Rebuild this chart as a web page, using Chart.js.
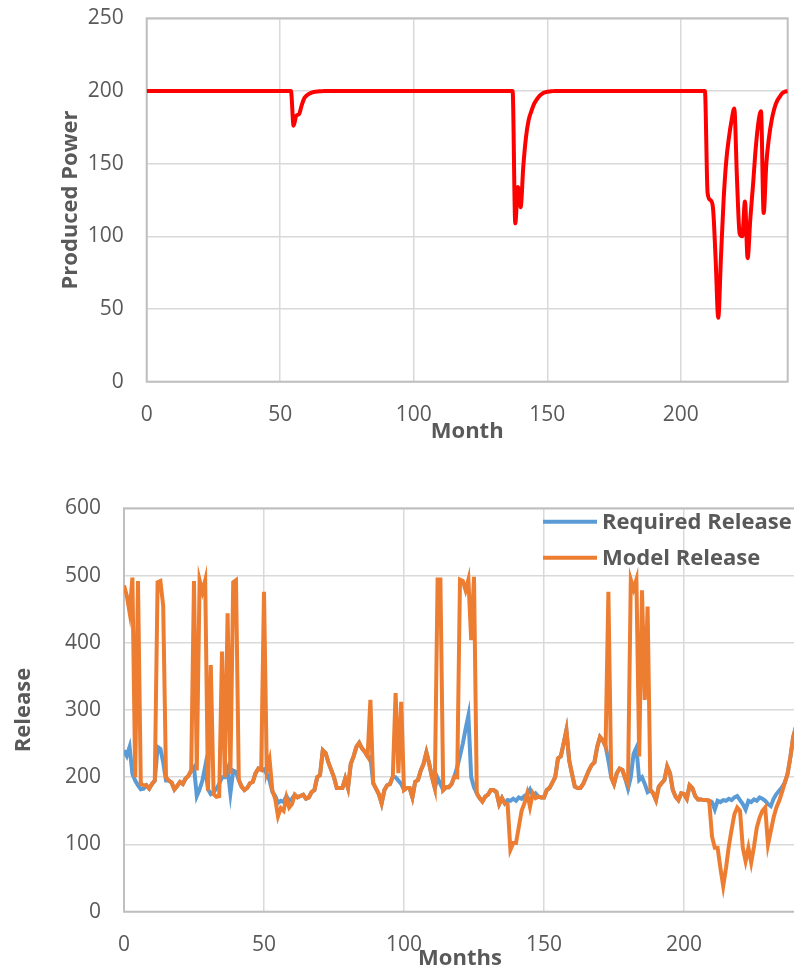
<!DOCTYPE html>
<html>
<head>
<meta charset="utf-8">
<script src="https://cdn.jsdelivr.net/npm/chart.js@4.4.0/dist/chart.umd.min.js"></script>
<style>
  html, body { margin: 0; padding: 0; background: #fff; width: 794px; height: 969px; overflow: hidden; }
  canvas { position: absolute; left: 0; }
  #powerChart { top: 0; }
  #releaseChart { top: 460px; }
</style>
</head>
<body>
<canvas id="powerChart" width="794" height="460"></canvas>
<canvas id="releaseChart" width="800" height="512"></canvas>
<script>
// months 0..240
const months = Array.from({ length: 241 }, (_, i) => i);

const producedPower = [
  200, 200, 200, 200, 200, 200, 200, 200, 200, 200, 200, 200, 200, 200, 200, 200, 200, 200, 200, 200,
  200, 200, 200, 200, 200, 200, 200, 200, 200, 200, 200, 200, 200, 200, 200, 200, 200, 200, 200, 200,
  200, 200, 200, 200, 200, 200, 200, 200, 200, 200, 200, 200, 200, 200, 200, 176, 183, 184, 190, 195,
  197, 198.3, 199, 199.5, 199.7, 199.8, 199.9, 200, 200, 200, 200, 200, 200, 200, 200, 200, 200, 200, 200, 200,
  200, 200, 200, 200, 200, 200, 200, 200, 200, 200, 200, 200, 200, 200, 200, 200, 200, 200, 200, 200,
  200, 200, 200, 200, 200, 200, 200, 200, 200, 200, 200, 200, 200, 200, 200, 200, 200, 200, 200, 200,
  200, 200, 200, 200, 200, 200, 200, 200, 200, 200, 200, 200, 200, 200, 200, 200, 200, 200, 109, 134,
  120, 148, 168, 180, 186, 191, 194, 196.5, 198, 199, 199.5, 199.7, 199.9, 200, 200, 200, 200, 200, 200, 200,
  200, 200, 200, 200, 200, 200, 200, 200, 200, 200, 200, 200, 200, 200, 200, 200, 200, 200, 200, 200,
  200, 200, 200, 200, 200, 200, 200, 200, 200, 200, 200, 200, 200, 200, 200, 200, 200, 200, 200, 200,
  200, 200, 200, 200, 200, 200, 200, 200, 200, 200, 130, 125, 120, 85, 44, 85, 125, 152, 168, 180,
  188, 140, 102, 100, 124, 85, 112, 135, 160, 178, 186, 116, 150, 168, 180, 188, 193, 196, 198.5, 199.5,
  200
];

const requiredRelease = [
  240, 232, 245, 205, 195, 188, 182, 183, 188, 183,
  190, 195, 245, 242, 222, 195, 195, 192, 182, 187,
  193, 190, 198, 202, 210, 215, 172, 182, 195, 216,
  182, 175, 178, 183, 190, 200, 200, 212, 176, 210,
  208, 196, 186, 181, 184, 191, 193, 206, 213, 211,
  212, 205, 195, 178, 172, 162, 165, 163, 172, 165,
  168, 174, 170, 172, 174, 168, 170, 178, 181, 200,
  203, 240, 236, 222, 211, 200, 184, 184, 184, 198,
  184, 220, 231, 245, 251, 243, 238, 231, 230, 191,
  183, 175, 161, 181, 188, 190, 201, 200, 195, 190,
  181, 184, 184, 170, 193, 196, 210, 220, 237, 220,
  200, 184, 199, 190, 181, 185, 185, 190, 201, 215,
  232, 250, 272, 292, 200, 185, 176, 169, 164, 171,
  174, 181, 181, 178, 160, 169, 161, 166, 165, 168,
  165, 170, 168, 172, 175, 182, 172, 176, 171, 170,
  170, 181, 184, 192, 200, 228, 231, 250, 270, 225,
  205, 186, 184, 184, 190, 200, 210, 218, 222, 245,
  260, 255, 246, 225, 200, 190, 206, 213, 211, 198,
  183, 200, 235, 244, 196, 200, 190, 178, 181, 176,
  166, 186, 191, 196, 216, 206, 181, 171, 166, 176,
  175, 168, 188, 184, 172, 167, 167, 166, 166, 165,
  163, 152, 165, 163, 166, 165, 168, 166, 170, 172,
  166, 160, 152, 165, 163, 167, 165, 170, 168, 165,
  160, 157, 168, 175, 180, 185, 192, 205, 230, 260,
  275
];

const modelRelease = [
  485, 470, 445, 497, 200, 492, 190, 188, 188, 183,
  190, 195, 490, 492, 455, 200, 195, 192, 182, 187,
  193, 190, 198, 202, 210, 492, 210, 493, 476, 493,
  180, 367, 175, 171, 172, 387, 200, 444, 205, 490,
  493, 196, 186, 181, 184, 191, 193, 206, 213, 211,
  476, 210, 226, 180, 168, 142, 154, 150, 170, 155,
  160, 174, 170, 172, 174, 168, 170, 178, 181, 200,
  203, 240, 236, 222, 211, 200, 184, 184, 184, 198,
  184, 220, 231, 245, 251, 243, 238, 231, 315, 191,
  183, 175, 161, 181, 188, 190, 201, 325, 206, 312,
  181, 184, 184, 170, 193, 196, 210, 220, 237, 220,
  200, 184, 494, 494, 181, 185, 185, 190, 201, 200,
  494, 492, 478, 494, 404, 498, 176, 169, 164, 171,
  174, 181, 181, 178, 160, 169, 161, 160, 92, 102,
  102, 126, 150, 161, 176, 156, 176, 169, 171, 170,
  170, 181, 184, 192, 200, 228, 231, 250, 270, 225,
  205, 186, 184, 184, 190, 200, 210, 218, 222, 245,
  260, 255, 246, 476, 200, 190, 206, 213, 211, 198,
  190, 494, 480, 494, 231, 478, 315, 454, 181, 176,
  166, 186, 191, 196, 216, 206, 181, 171, 166, 176,
  175, 168, 188, 184, 172, 167, 167, 166, 166, 165,
  112, 95, 95, 65, 38, 65, 97, 122, 145, 155,
  150, 95, 75, 95, 73, 97, 125, 140, 150, 155,
  100, 120, 140, 155, 165, 178, 192, 205, 230, 260,
  275
];

const GREY = '#595959';
const FAMILY = "'Open Sans', sans-serif";
const tickFont = { family: FAMILY, size: 21 };
const titleFont = { family: FAMILY, size: 22, weight: 'bold' };

const toPoints = vals => vals.map((v, i) => ({ x: months[i], y: v }));

// plot area border like the Excel frame
const frame = {
  id: 'frame',
  beforeDatasetsDraw(chart) {
    const { ctx, chartArea: a } = chart;
    ctx.save();
    ctx.strokeStyle = '#BFBFBF';
    ctx.lineWidth = 2;
    ctx.strokeRect(a.left, a.top, a.right - a.left, a.bottom - a.top);
    ctx.restore();
  },
};

// legend sitting inside the plot area, top right
const insideLegend = {
  id: 'insideLegend',
  afterDraw(chart) {
    const { ctx, chartArea: a } = chart;
    ctx.save();
    ctx.font = `bold 22px ${FAMILY}`;
    ctx.textBaseline = 'middle';
    chart.data.datasets.forEach((ds, i) => {
      const x = a.right - 253;
      const y = a.top + 13.5 + i * 36;
      ctx.strokeStyle = ds.borderColor;
      ctx.lineWidth = 4;
      ctx.beginPath();
      ctx.moveTo(x, y);
      ctx.lineTo(x + 54, y);
      ctx.stroke();
      ctx.fillStyle = GREY;
      ctx.fillText(ds.label, x + 59, y + 1);
    });
    ctx.restore();
  },
};

function xAxis(text, height, titlePad) {
  return {
    type: 'linear',
    min: 0,
    max: 240,
    grid: { color: '#D9D9D9', lineWidth: 1.5, drawTicks: false },
    border: { display: false },
    ticks: { stepSize: 50, includeBounds: false, padding: 21, color: GREY, font: tickFont, maxRotation: 0 },
    title: { display: true, text, color: GREY, font: titleFont, padding: { top: 0, bottom: titlePad } },
    afterFit(s) { s.height = height; s.paddingLeft = 0; s.paddingRight = 0; },
  };
}

function yAxis(text, max, step, width, titlePad) {
  return {
    min: 0,
    max,
    grid: { color: '#D9D9D9', lineWidth: 1.5, drawTicks: false },
    border: { display: false },
    ticks: { stepSize: step, padding: 23, color: GREY, font: tickFont },
    title: { display: true, text, color: GREY, font: titleFont, padding: { top: titlePad, bottom: 0 } },
    afterFit(s) { s.width = width; s.paddingTop = 0; s.paddingBottom = 0; },
  };
}

new Chart(document.getElementById('powerChart'), {
  type: 'line',
  data: {
    datasets: [{
      label: 'Produced Power',
      data: toPoints(producedPower),
      borderColor: '#FF0000',
      borderWidth: 4,
      pointRadius: 0,
      cubicInterpolationMode: 'monotone',
    }],
  },
  options: {
    responsive: false,
    animation: false,
    layout: { padding: { left: 0, top: 18.3, right: 6.3, bottom: 0 } },
    plugins: { legend: { display: false }, tooltip: { enabled: false } },
    scales: {
      x: xAxis('Month', 78.3, 14.7),
      y: yAxis('Produced Power', 250, 50, 146.7, 57.8),
    },
  },
  plugins: [frame],
});

new Chart(document.getElementById('releaseChart'), {
  type: 'line',
  data: {
    datasets: [
      {
        label: 'Required Release',
        data: toPoints(requiredRelease),
        borderColor: '#5B9BD5',
        borderWidth: 4,
        pointRadius: 0,
        tension: 0,
        order: 1,
      },
      {
        label: 'Model Release',
        data: toPoints(modelRelease),
        borderColor: '#ED7D31',
        borderWidth: 4,
        pointRadius: 0,
        tension: 0,
        order: 0,
      },
    ],
  },
  options: {
    responsive: false,
    animation: false,
    layout: { padding: { left: 0, top: 48.3, right: 4, bottom: 0 } },
    plugins: { legend: { display: false }, tooltip: { enabled: false } },
    scales: {
      x: xAxis('Months', 60.3, 0),
      y: yAxis('Release', 600, 100, 124, 10.7),
    },
  },
  plugins: [frame, insideLegend],
});
</script>
</body>
</html>
